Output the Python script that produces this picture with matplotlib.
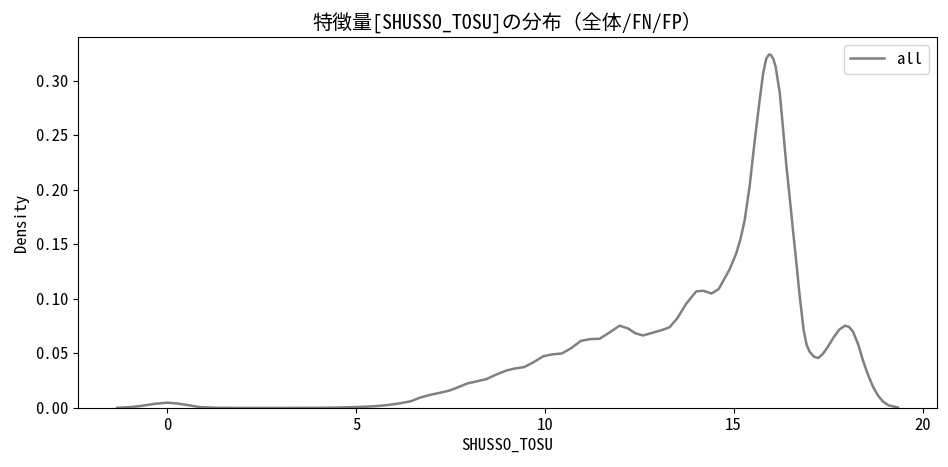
import numpy as np
import matplotlib
matplotlib.use("Agg")
import matplotlib.pyplot as plt

# values
shusso_tosu = [
    -1.33, -1.0, -0.71, -0.35, 0.0, 0.25, 0.52, 0.87, 1.3, 2.0, 3.0, 4.0,
    4.5, 4.92, 5.25, 5.55, 5.85, 6.16, 6.45, 6.69, 6.95, 7.2, 7.45, 7.7,
    7.95, 8.2, 8.45, 8.7, 8.99, 9.2, 9.45, 9.7, 9.96, 10.2, 10.45, 10.7,
    10.95, 11.2, 11.45, 11.7, 11.98, 12.2, 12.4, 12.6, 12.85, 13.1, 13.3,
    13.5, 13.75, 14.01, 14.2, 14.41, 14.6, 14.89, 15.07, 15.18, 15.29,
    15.42, 15.56, 15.69, 15.78, 15.86, 15.93, 15.98, 16.05, 16.11, 16.22,
    16.31, 16.39, 16.48, 16.57, 16.66, 16.75, 16.85, 16.93, 17.01, 17.12,
    17.24, 17.37, 17.5, 17.65, 17.8, 17.95, 18.05, 18.16, 18.3, 18.42,
    18.55, 18.69, 18.82, 18.95, 19.1, 19.35,
]
density = [
    0.0002, 0.0008, 0.0018, 0.0038, 0.0049, 0.0042, 0.0028, 0.0008, 0.0002,
    0.0001, 0.0001, 0.0002, 0.0004, 0.0008, 0.0012, 0.0018, 0.0028, 0.0043,
    0.0062, 0.0095, 0.0120, 0.0138, 0.0158, 0.0190, 0.0226, 0.0245, 0.0265,
    0.0305, 0.0345, 0.0362, 0.0375, 0.0420, 0.0475, 0.0492, 0.0500, 0.0550,
    0.0615, 0.0632, 0.0635, 0.0690, 0.0755, 0.0730, 0.0685, 0.0665, 0.0690,
    0.0715, 0.0740, 0.0820, 0.0960, 0.1070, 0.1075, 0.1050, 0.1090, 0.1270,
    0.1420, 0.1550, 0.1720, 0.2030, 0.2460, 0.2830, 0.3070, 0.3200, 0.3240,
    0.3240, 0.3200, 0.3130, 0.2890, 0.2550, 0.2240, 0.1940, 0.1630, 0.1330,
    0.1020, 0.0720, 0.0580, 0.0517, 0.0472, 0.0458, 0.0500, 0.0565, 0.0650,
    0.0720, 0.0755, 0.0745, 0.0700, 0.0580, 0.0440, 0.0310, 0.0195, 0.0115,
    0.0060, 0.0025, 0.0004,
]
feature = "SHUSSO_TOSU"
series_label = "all"

plt.rcParams["font.family"] = ["Noto Sans Mono CJK JP", "Noto Sans CJK JP", "DejaVu Sans"]
plt.rcParams["font.size"] = 12

fig, ax = plt.subplots(figsize=(9.48, 4.67), dpi=100)
fig.subplots_adjust(left=0.0823, right=0.9884, top=0.9208, bottom=0.1263)

ax.plot(shusso_tosu, density, color="gray", linewidth=1.8, label=series_label)

# seaborn-like 5% margins
ax.margins(x=0.05, y=0.05)
ax.set_ylim(bottom=0)

ax.set_title(f"特徴量[{feature}]の分布（全体/FN/FP）")
ax.set_xlabel(feature)
ax.set_ylabel("Density")
ax.legend(loc="upper right")

plt.savefig("out.png", dpi=100)
plt.close()
